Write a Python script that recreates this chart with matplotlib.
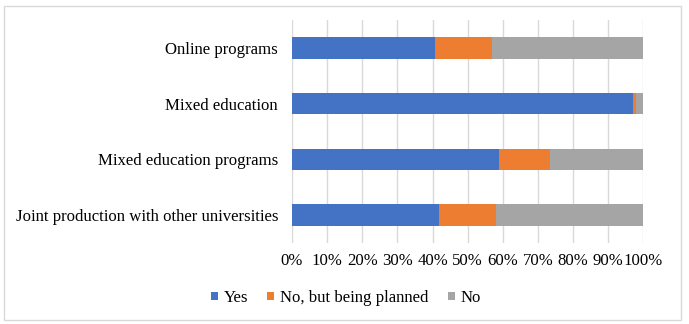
import matplotlib.pyplot as plt
from matplotlib.patches import Rectangle
import numpy as np

plt.rcParams['font.family'] = ['Liberation Serif', 'DejaVu Serif']

# survey answers per activity, share of respondents (%)
categories = ['Joint production with other universities', 'Mixed education programs',
              'Mixed education', 'Online programs']
yes = [41.9, 59.0, 97.1, 40.8]
planned = [16.0, 14.3, 0.9, 16.0]
no = [42.1, 26.7, 2.0, 43.2]

series = ['Yes', 'No, but being planned', 'No']
colors = ['#4472c4', '#ed7d31', '#a5a5a5']

fig = plt.figure(figsize=(6.89, 3.24), dpi=100)
ax = fig.add_axes([292/689, 1-243/324, 351.5/689, 223/324])

y = np.arange(len(categories))
left = np.zeros(len(categories))
for vals, lab, c in zip([yes, planned, no], series, colors):
    ax.barh(y, vals, left=left, height=0.39, color=c, label=lab, zorder=3)
    left += np.array(vals)

ax.set_xlim(0, 100)
ax.set_ylim(-0.5, len(categories) - 0.5)
ax.set_xticks(np.arange(0, 101, 10))
ax.set_xticklabels([f'{v}%' for v in range(0, 101, 10)], fontsize=12.1)
ax.set_yticks(y)
ax.set_yticklabels(categories, fontsize=12.1)
ax.tick_params(length=0)
ax.tick_params(axis='y', pad=10)
ax.tick_params(axis='x', pad=7)
ax.grid(axis='x', color='#d9d9d9', linewidth=1, zorder=0)
for s in ax.spines.values():
    s.set_visible(False)

fig.legend(loc='center', bbox_to_anchor=(346/689, 1-298/324), ncol=3, frameon=False,
           fontsize=12.1, handlelength=0.42, handleheight=0.42, handletextpad=0.35,
           columnspacing=1.15)

# light border round the whole chart
fig.patches.append(Rectangle((4/689, 4/324), 677/689, 314/324, transform=fig.transFigure,
                             fill=False, edgecolor='#d9d9d9', linewidth=1))

fig.savefig('out.png', dpi=100)
